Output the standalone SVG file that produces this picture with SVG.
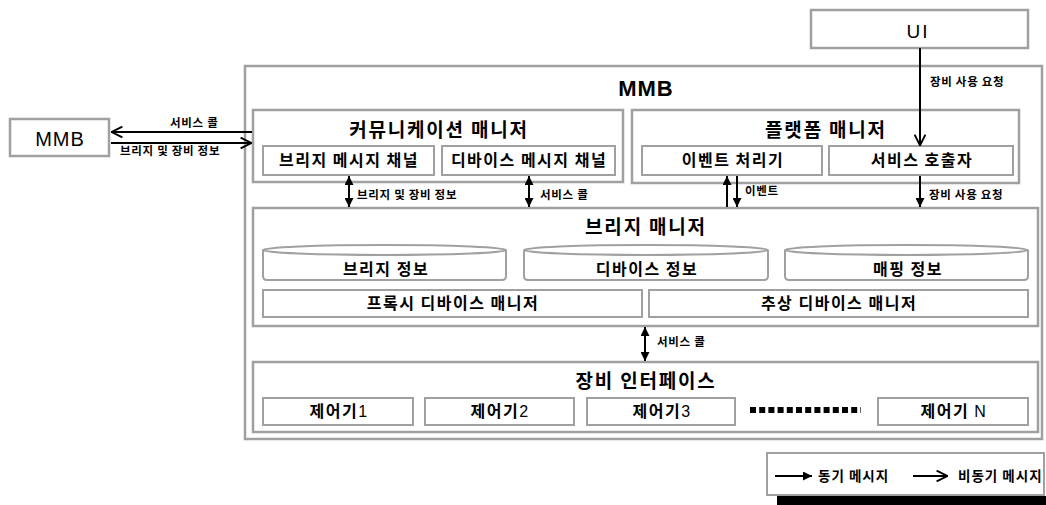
<svg xmlns="http://www.w3.org/2000/svg" width="1046" height="505" viewBox="0 0 1046 505">
<style>
.box{fill:#fff;stroke:#a0a0a0;stroke-width:2.5}
.sub{fill:#fff;stroke:#a0a0a0;stroke-width:2}
.kt{font-family:"Noto Sans CJK KR","Noto Sans",sans-serif;font-weight:bold;fill:#000;text-anchor:middle}
.title{font-size:19px;letter-spacing:1.8px}
.st{font-size:16px;letter-spacing:1.5px}
.lbl{font-family:"Noto Sans CJK KR","Noto Sans",sans-serif;font-weight:bold;font-size:11.5px;letter-spacing:0.7px;fill:#000}
.leg{font-family:"Noto Sans CJK KR","Noto Sans",sans-serif;font-weight:bold;font-size:13.5px;letter-spacing:1px;fill:#000}
.lat{font-family:"Liberation Sans",Arial,sans-serif;fill:#000;text-anchor:middle}
.ln{stroke:#000;stroke-width:2;fill:none}
</style>
<defs>
<marker id="sync" viewBox="0 0 10 10" refX="10" refY="5" markerWidth="9" markerHeight="9" markerUnits="userSpaceOnUse" orient="auto-start-reverse"><path d="M0,0 L10,5 L0,10 z" fill="#000"/></marker>
<marker id="async" viewBox="0 0 10 10" refX="10" refY="5" markerWidth="12" markerHeight="12" markerUnits="userSpaceOnUse" orient="auto-start-reverse"><path d="M0.5,0.5 L9.5,5 L0.5,9.5" fill="none" stroke="#000" stroke-width="1.6"/></marker>
</defs>

<g id="ext-mmb">
<rect class="box" x="10" y="119" width="99" height="37"/>
<text class="lat" x="60" y="146" font-size="20" letter-spacing="1">MMB</text>
</g>

<g id="ui">
<rect class="box" x="811" y="10" width="217" height="38"/>
<text class="lat" x="918" y="38" font-size="19" letter-spacing="2">UI</text>
</g>

<g id="mmb">
<rect class="box" x="245" y="66" width="797" height="373"/>
<text class="lat" x="646" y="96" font-size="22" font-weight="bold" letter-spacing="1">MMB</text>
</g>

<g id="comm-manager">
<rect class="box" x="253" y="110" width="370" height="72"/>
<text class="kt title" x="439" y="137">커뮤니케이션 매니저</text>
<rect class="sub" x="263" y="146" width="171" height="29"/>
<text class="kt st" x="349" y="166">브리지 메시지 채널</text>
<rect class="sub" x="442" y="146" width="173" height="29"/>
<text class="kt st" x="529" y="166">디바이스 메시지 채널</text>
</g>

<g id="platform-manager">
<rect class="box" x="632" y="110" width="387" height="73"/>
<text class="kt title" x="826" y="137">플랫폼 매니저</text>
<rect class="sub" x="642" y="146" width="180" height="29"/>
<text class="kt st" x="733" y="166">이벤트 처리기</text>
<rect class="sub" x="829" y="146" width="184" height="29"/>
<text class="kt st" x="922" y="166">서비스 호출자</text>
</g>

<g id="bridge-manager">
<rect class="box" x="253" y="208" width="785" height="118"/>
<text class="kt title" x="646" y="234">브리지 매니저</text>
<g id="bridge-info">
<path class="sub" d="M263,250 L263,276 Q263,280 267,280 L502,280 Q506,280 506,276 L506,250"/>
<ellipse class="sub" cx="384.5" cy="250" rx="121.5" ry="5"/>
<text class="kt st" x="386" y="275">브리지 정보</text>
</g>
<g id="device-info">
<path class="sub" d="M524,250 L524,276 Q524,280 528,280 L764,280 Q768,280 768,276 L768,250"/>
<ellipse class="sub" cx="646" cy="250" rx="122" ry="5"/>
<text class="kt st" x="647" y="275">디바이스 정보</text>
</g>
<g id="mapping-info">
<path class="sub" d="M785,250 L785,276 Q785,280 789,280 L1024,280 Q1028,280 1028,276 L1028,250"/>
<ellipse class="sub" cx="906.5" cy="250" rx="121.5" ry="5"/>
<text class="kt st" x="908" y="275">매핑 정보</text>
</g>
<rect class="sub" x="263" y="290" width="379" height="27"/>
<text class="kt st" x="453" y="309">프록시 디바이스 매니저</text>
<rect class="sub" x="649" y="290" width="379" height="27"/>
<text class="kt st" x="839" y="309">추상 디바이스 매니저</text>
</g>

<g id="device-interface">
<rect class="box" x="253" y="362" width="785" height="70"/>
<text class="kt title" x="646" y="388">장비 인터페이스</text>
<rect class="sub" x="263" y="398" width="150" height="27"/>
<text class="kt st" x="339" y="417">제어기<tspan font-family="Liberation Sans,Arial,sans-serif" font-weight="normal">1</tspan></text>
<rect class="sub" x="425" y="398" width="149" height="27"/>
<text class="kt st" x="500" y="417">제어기<tspan font-family="Liberation Sans,Arial,sans-serif" font-weight="normal">2</tspan></text>
<rect class="sub" x="587" y="398" width="148" height="27"/>
<text class="kt st" x="662" y="417">제어기<tspan font-family="Liberation Sans,Arial,sans-serif" font-weight="normal">3</tspan></text>
<line x1="750" y1="410" x2="861" y2="410" stroke="#000" stroke-width="6" stroke-dasharray="6 3.2"/>
<rect class="sub" x="878" y="398" width="150" height="27"/>
<text class="kt st" x="954" y="417">제어기 <tspan font-family="Liberation Sans,Arial,sans-serif" font-weight="normal">N</tspan></text>
</g>

<g id="connectors">
<line class="ln" x1="252" y1="132" x2="111" y2="132" marker-end="url(#async)"/>
<line class="ln" x1="111" y1="143" x2="252" y2="143" marker-end="url(#async)"/>
<line class="ln" x1="920" y1="48" x2="920" y2="146" marker-end="url(#async)"/>
<line class="ln" x1="349" y1="176" x2="349" y2="207" marker-start="url(#sync)" marker-end="url(#sync)"/>
<line class="ln" x1="529" y1="176" x2="529" y2="207" marker-start="url(#sync)" marker-end="url(#sync)"/>
<line class="ln" x1="727" y1="207" x2="727" y2="176" marker-end="url(#sync)"/>
<line class="ln" x1="737" y1="176" x2="737" y2="207" marker-end="url(#sync)"/>
<line class="ln" x1="920" y1="176" x2="920" y2="207" marker-end="url(#sync)"/>
<line class="ln" x1="645" y1="327" x2="645" y2="361" marker-start="url(#sync)" marker-end="url(#sync)"/>
<text class="lbl" x="170" y="127">서비스 콜</text>
<text class="lbl" x="120" y="155">브리지 및 장비 정보</text>
<text class="lbl" x="930" y="86">장비 사용 요청</text>
<text class="lbl" x="357" y="199">브리지 및 장비 정보</text>
<text class="lbl" x="540" y="199">서비스 콜</text>
<text class="lbl" x="745" y="195">이벤트</text>
<text class="lbl" x="929" y="199">장비 사용 요청</text>
<text class="lbl" x="657" y="346">서비스 콜</text>
</g>

<g id="legend">
<rect x="777" y="496" width="269" height="9" fill="#000"/>
<rect class="sub" x="767" y="453" width="277" height="42"/>
<line class="ln" x1="775" y1="476" x2="812" y2="476" marker-end="url(#sync)"/>
<text class="leg" x="818" y="481">동기 메시지</text>
<line class="ln" x1="913" y1="476" x2="948" y2="476" marker-end="url(#async)"/>
<text class="leg" x="958" y="481">비동기 메시지</text>
</g>
</svg>
